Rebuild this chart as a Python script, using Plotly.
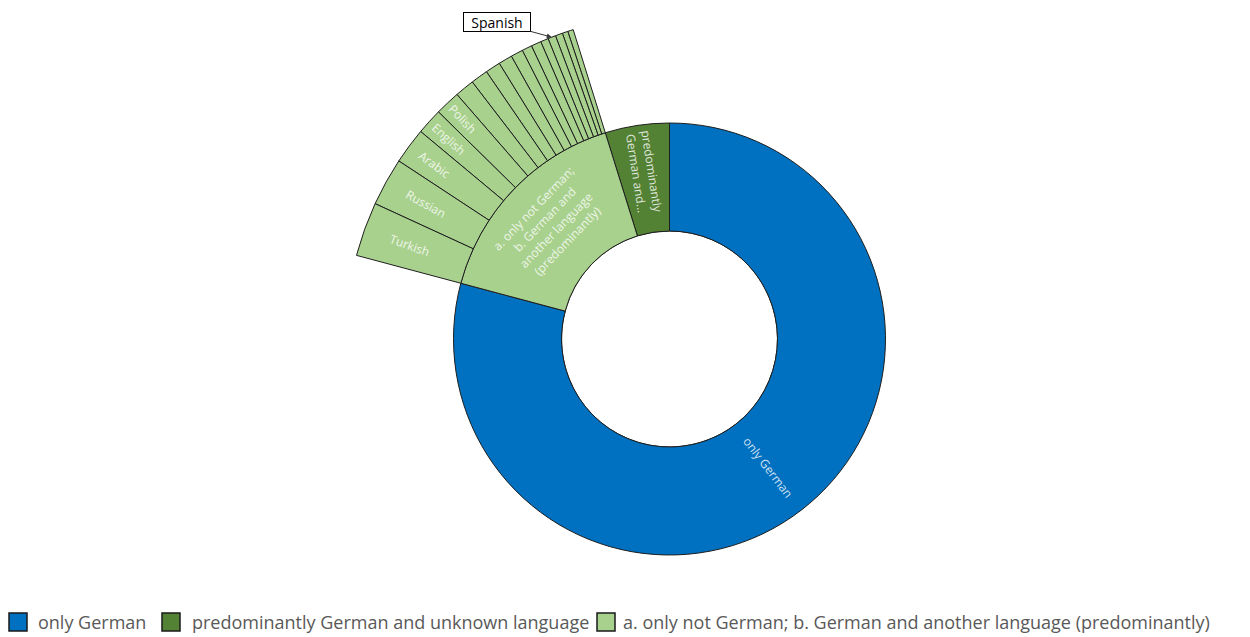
import math
import plotly.graph_objects as go

# Home language of the population (share in %)
groups = [
    "only German",
    "predominantly German and unknown language",
    "a. only not German; b. German and another language (predominantly)",
]
group_short = ["only German", "predominantly<br>German and...",
               "a. only not German;<br>b. German and<br>another language<br>(predominantly)"]
group_values = [79.1, 4.8]  # the third group is the sum of its languages
group_colors = ["#0070C0", "#548235", "#A9D18E"]

languages = ["Turkish", "Russian", "Arabic", "English", "Polish", "Kurdish",
             "Italian", "Romanian", "Persian", "Greek", "Albanian", "Serbian",
             "Croatian", "Spanish", "Bosnian", "French", "Vietnamese"]
language_values = [2.7, 2.4, 1.8, 1.3, 1.25, 0.97, 0.86, 0.75, 0.69, 0.61,
                   0.5, 0.5, 0.39, 0.39, 0.36, 0.28, 0.28]
labelled_languages = ["Turkish", "Russian", "Arabic", "English", "Polish"]
callout_language = "Spanish"

other_total = round(sum(language_values), 4)
values_by_group = group_values + [other_total]
total = sum(values_by_group)

# ---- page geometry ----
W, H = 1250, 663
ml, mr, mt, mb = 89, 0, 15, 0
pw, ph = W - ml - mr, H - mt - mb
R = min(pw, ph) / 2


def to_paper(px, py):
    return (px - ml) / pw, (H - mb - py) / ph


def polar_to_paper(radius, deg):
    a = math.radians(deg)
    return 0.5 + radius * math.cos(a) / pw, 0.5 + radius * math.sin(a) / ph


# ---- hierarchy (root -> language group -> single language) ----
ids, labels, parents, values, colors, texts = [], [], [], [], [], []
ids.append("root"); labels.append(""); parents.append(""); values.append(total)
colors.append("#FFFFFF"); texts.append("")
for i, (g, v, c) in enumerate(zip(groups, values_by_group, group_colors)):
    ids.append(g); labels.append(g); parents.append("root"); values.append(v)
    colors.append(c)
    texts.append(group_short[i] if i == 1 else "")
# languages run counter-clockwise, smallest first so Turkish ends next to "only German"
for lang, v in reversed(list(zip(languages, language_values))):
    ids.append("lang-" + lang); labels.append(lang); parents.append(groups[2])
    values.append(v); colors.append(group_colors[2])
    texts.append(lang if lang in labelled_languages else "")

# first sector ("only German") starts where it must end at 12 o'clock
rotation = 90 + 360 * (values_by_group[1] + values_by_group[2]) / total

label_font = dict(family="Open Sans", size=12, color="rgba(255,255,255,0.82)")

fig = go.Figure()
fig.add_trace(go.Sunburst(
    ids=ids, labels=labels, parents=parents, values=values,
    branchvalues="total", sort=False, rotation=rotation,
    text=texts, textinfo="text", insidetextorientation="radial",
    insidetextfont=label_font,
    marker=dict(colors=colors, line=dict(color="#1E1E1E", width=1)),
    leaf=dict(opacity=1),
    hoverinfo="label+value",
))
# group label of the mixed-language sector, set along the ring
overlay_text = ["" for _ in ids]
overlay_text[ids.index(groups[2])] = group_short[2]
fig.add_trace(go.Sunburst(
    ids=ids, labels=labels, parents=parents, values=values,
    branchvalues="total", sort=False, rotation=rotation,
    text=overlay_text, textinfo="text", insidetextorientation="tangential",
    insidetextfont=label_font,
    marker=dict(colors=["rgba(0,0,0,0)"] * len(ids), line=dict(width=0)),
    leaf=dict(opacity=1),
    hoverinfo="skip",
))

# "only German" label, radial in the middle of its sector
mid_deg = rotation + 360 * values_by_group[0] / 2 / total
lx, ly = polar_to_paper(R / 2, mid_deg)
text_angle = -((mid_deg + 90) % 180 - 90)
fig.add_annotation(x=lx, y=ly, xref="paper", yref="paper", showarrow=False,
                   xanchor="center", yanchor="middle",
                   text=group_short[0], textangle=text_angle, font=label_font)

# callout for the Spanish sector at the outer edge
idx = languages.index(callout_language)
later = sum(language_values[idx + 1:])
sp_deg = 90 + 360 * (values_by_group[1] + later + language_values[idx] / 2) / total
tip_x, tip_y = polar_to_paper(R, sp_deg)
fig.add_annotation(
    x=tip_x, y=tip_y, xref="paper", yref="paper",
    text=callout_language, showarrow=True, ax=-55, ay=-15,
    arrowhead=2, arrowsize=1, arrowwidth=1, arrowcolor="#333333",
    font=dict(family="Open Sans", size=14, color="#000000"),
    bgcolor="#FFFFFF", bordercolor="#000000", borderwidth=1, borderpad=0,
    width=66, height=18,
)

# legend row: swatch + caption for each group
legend_swatch_x = [9, 162, 597]
legend_text_x = [36, 190, 621]
legend_y = 622
swatch = 18
for g, c, sx, tx in zip(groups, group_colors, legend_swatch_x, legend_text_x):
    x0, y0 = to_paper(sx, legend_y + swatch / 2)
    x1, y1 = to_paper(sx + swatch, legend_y - swatch / 2)
    fig.add_shape(type="rect", xref="paper", yref="paper",
                  x0=x0, y0=y0, x1=x1, y1=y1, fillcolor=c,
                  line=dict(color="#1A1A1A", width=1.5))
    ax_, ay_ = to_paper(tx, legend_y)
    fig.add_annotation(x=ax_, y=ay_, xref="paper", yref="paper",
                       xanchor="left", yanchor="middle", showarrow=False,
                       text=g, font=dict(family="Open Sans", size=18, color="#595959"))

fig.update_layout(
    width=W, height=H,
    margin=dict(l=ml, r=mr, t=mt, b=mb),
    paper_bgcolor="#FFFFFF",
    showlegend=False,
)

fig.write_html("out.html",
               post_script="document.documentElement.style.overflow='hidden';"
                           "document.body.style.overflow='hidden';")
